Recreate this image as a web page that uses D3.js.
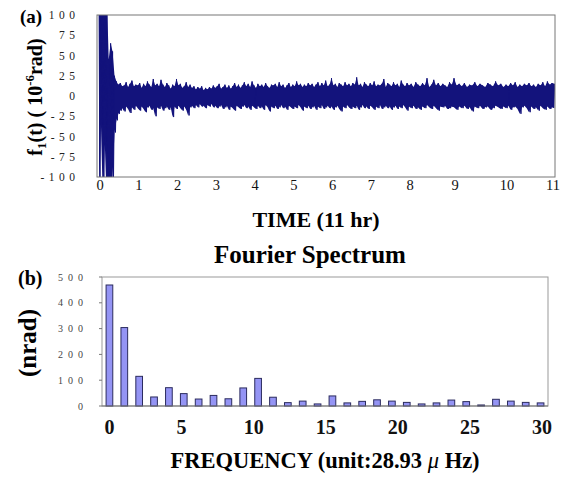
<!DOCTYPE html>
<html><head><meta charset="utf-8">
<script src="https://cdn.jsdelivr.net/npm/d3@7"></script>
<style>html,body{margin:0;padding:0;background:#fff;}svg{display:block;}</style>
</head><body>
<script>
// ---- Data: panel (a) time series envelope (sampled every 0.05 hr), units 1e-6 rad
const sampleStep = 0.05;
const hiVals = [
130,130,130,130,130,45,65,55,25,18,
14,16,12,13,17,11,15,19,12,14,
13,16,10,15,12,18,14,11,21,13,
15,12,20,14,11,16,13,9,14,12,
21,13,15,10,12,17,11,14,10,12,
8,11,9,12,7,10,8,11,9,13,
10,12,15,9,11,14,10,13,9,12,
16,11,14,10,13,17,12,15,11,18,
13,10,15,12,14,11,16,12,10,14,
13,15,11,17,12,14,10,13,16,11,
14,12,18,13,15,11,14,12,16,13,
15,11,14,17,12,16,13,19,12,14,
22,13,15,11,16,14,12,17,13,15,
12,16,14,23,13,15,11,17,14,12,
16,13,18,12,14,13,15,21,11,16,
14,12,17,13,15,11,19,14,12,16,
13,15,11,17,14,12,16,13,22,11,
14,20,13,16,12,15,13,11,17,14,
22,13,15,12,16,11,14,13,17,12,
15,13,11,16,14,12,18,13,15,11,
14,12,16,13,17,11,14,12,15,13,
16,12,14,11,15,13,17,12,18,14,16,15];
const loVals = [
-130,-35,-130,-60,-130,-130,-110,-100,-45,-30,
-22,-18,-15,-19,-13,-16,-21,-14,-17,-12,
-15,-18,-13,-16,-20,-14,-12,-17,-15,-25,
-14,-16,-12,-18,-15,-13,-17,-14,-26,-13,
-16,-12,-15,-18,-13,-17,-24,-14,-12,-15,
-11,-14,-10,-13,-12,-15,-11,-13,-10,-14,
-12,-15,-13,-11,-16,-14,-12,-17,-13,-15,
-18,-12,-14,-16,-13,-11,-15,-13,-17,-12,
-14,-16,-12,-15,-13,-17,-11,-14,-19,-13,
-15,-12,-16,-14,-11,-15,-13,-17,-12,-14,
-16,-13,-15,-11,-14,-18,-13,-15,-12,-16,
-14,-12,-17,-13,-15,-11,-16,-14,-12,-15,
-13,-17,-14,-12,-16,-19,-13,-15,-11,-14,
-16,-13,-15,-12,-17,-14,-11,-15,-13,-16,
-12,-14,-17,-13,-15,-11,-16,-14,-12,-15,
-13,-17,-14,-12,-16,-13,-15,-11,-14,-18,
-13,-15,-12,-16,-14,-17,-13,-15,-11,-14,
-16,-12,-15,-18,-13,-14,-12,-16,-15,-13,
-14,-17,-13,-15,-12,-16,-14,-19,-13,-15,
-12,-16,-14,-13,-17,-15,-12,-14,-16,-13,
-15,-12,-17,-14,-13,-16,-22,-14,-12,-15,
-20,-13,-16,-14,-18,-12,-15,-17,-13,-16,-14,-15];
const timeTicks = [0,1,2,3,4,5,6,7,8,9,10,11];
const fTicks = [100,75,50,25,0,-25,-50,-75,-100];

// ---- Data: panel (b) Fourier spectrum, nrad
const freqBins = d3.range(30);
const amps = [469,304,115,35,71,48,27,41,28,70,107,34,13,19,8,39,12,18,24,19,14,8,12,23,17,4,26,19,14,12];
const freqTicks = [0,5,10,15,20,25,30];
const ampTicks = [0,100,200,300,400,500];

const W = 563, H = 478;
const serif = '"Liberation Serif","Times New Roman",serif';
const navy = '#13137c';

const svg = d3.select('body').append('svg').attr('width', W).attr('height', H)
  .style('font-family', serif);

// ---------- Panel (a)
const boxA = {l: 97, r: 555, t: 15, b: 177};
const xA = d3.scaleLinear().domain([0, 8, 9, 10, 11]).range([99, 409, 454, 506, 552]);
const yA = d3.scaleLinear().domain([-100, 100]).range([boxA.b, boxA.t]);

svg.append('clipPath').attr('id', 'clipA').append('rect')
  .attr('x', boxA.l).attr('y', boxA.t).attr('width', boxA.r - boxA.l).attr('height', boxA.b - boxA.t);

const gA = svg.append('g').attr('clip-path', 'url(#clipA)');

// dense band: filled area between the upper and lower envelope (jagged edges)
const areaA = d3.area()
  .x((d, i) => xA(i * sampleStep))
  .y0((d, i) => yA(loVals[i]))
  .y1((d, i) => yA(hiVals[i]));
gA.append('path').attr('d', areaA(hiVals)).attr('fill', navy).attr('stroke', 'none');

// zigzag trace for the spiky look
const pts = [];
hiVals.forEach((h, i) => {
  const t = i * sampleStep;
  pts.push([t, h]);
  pts.push([t + sampleStep / 2, loVals[i]]);
});
const lineA = d3.line().x(d => xA(d[0])).y(d => yA(d[1]));
gA.append('path').attr('d', lineA(pts))
  .attr('fill', 'none').attr('stroke', navy).attr('stroke-width', 1);

svg.append('rect').attr('x', boxA.l).attr('y', boxA.t)
  .attr('width', boxA.r - boxA.l).attr('height', boxA.b - boxA.t)
  .attr('fill', 'none').attr('stroke', '#777').attr('stroke-width', 1);

svg.append('g').selectAll('text').data(fTicks).join('text')
  .attr('x', 75 + 4.5).attr('y', d => yA(d)).attr('dy', '0.35em')
  .attr('text-anchor', 'end').attr('font-size', 11.5).attr('letter-spacing', 4.5)
  .attr('fill', '#222').text(d => d);

svg.append('g').selectAll('text').data(timeTicks).join('text')
  .attr('x', d => xA(d) + 1).attr('y', 190).attr('text-anchor', 'middle')
  .attr('font-size', 14.5).attr('fill', '#111').text(d => d);

svg.append('text').attr('x', 20).attr('y', 23).attr('font-size', 19).attr('font-weight', 'bold').text('(a)');

const yt = svg.append('text').attr('transform', 'translate(42,97) rotate(-90)')
  .attr('text-anchor', 'middle').attr('font-size', 20).attr('font-weight', 'bold');
yt.append('tspan').text('f');
yt.append('tspan').attr('font-size', 13).attr('dy', 4).text('1');
yt.append('tspan').attr('dy', -4).text('(t) ( 10');
yt.append('tspan').attr('font-size', 13).attr('dy', -8).text('-6');
yt.append('tspan').attr('dy', 8).text('rad)');

svg.append('text').attr('x', 316).attr('y', 227).attr('text-anchor', 'middle')
  .attr('font-size', 22).attr('font-weight', 'bold').text('TIME (11 hr)');
svg.append('text').attr('x', 310).attr('y', 263).attr('text-anchor', 'middle')
  .attr('font-size', 25).attr('font-weight', 'bold').text('Fourier Spectrum');

// ---------- Panel (b)
const boxB = {l: 102, r: 548, t: 277, b: 406};
const xB = d3.scaleBand().domain(freqBins).range([boxB.l, boxB.r]).paddingInner(0.55).paddingOuter(0.275);
const xBt = d3.scaleLinear().domain([0, 30]).range([109.5, 542]);
const yB = d3.scaleLinear().domain([0, 500]).range([boxB.b, boxB.t]);

svg.append('rect').attr('x', boxB.l).attr('y', boxB.t)
  .attr('width', boxB.r - boxB.l).attr('height', boxB.b - boxB.t)
  .attr('fill', 'none').attr('stroke', '#999').attr('stroke-width', 1);

svg.append('g').selectAll('line').data(ampTicks).join('line')
  .attr('x1', boxB.l - 3).attr('x2', boxB.l).attr('y1', d => yB(d)).attr('y2', d => yB(d))
  .attr('stroke', '#777');

svg.append('g').selectAll('rect').data(amps).join('rect')
  .attr('x', (d, i) => xB(freqBins[i])).attr('width', xB.bandwidth())
  .attr('y', d => yB(d)).attr('height', d => yB(0) - yB(d))
  .attr('fill', '#9494f4').attr('stroke', '#2b2b5e').attr('stroke-width', 1);

svg.append('line').attr('x1', boxB.l).attr('x2', boxB.r).attr('y1', boxB.b).attr('y2', boxB.b)
  .attr('stroke', '#777');

svg.append('g').selectAll('text').data(ampTicks).join('text')
  .attr('x', 83 + 5).attr('y', d => yB(d)).attr('dy', '0.35em')
  .attr('text-anchor', 'end').attr('font-size', 10).attr('letter-spacing', 5)
  .attr('fill', '#444').text(d => d);

svg.append('g').selectAll('text').data(freqTicks).join('text')
  .attr('x', d => xBt(d)).attr('y', 434).attr('text-anchor', 'middle')
  .attr('font-size', 20).attr('font-weight', 'bold').attr('fill', '#111').text(d => d);

svg.append('text').attr('x', 18).attr('y', 285).attr('font-size', 20).attr('font-weight', 'bold').text('(b)');
svg.append('text').attr('transform', 'translate(36,343) rotate(-90)')
  .attr('text-anchor', 'middle').attr('font-size', 25).attr('font-weight', 'bold').text('(nrad)');

const fx = svg.append('text').attr('x', 325).attr('y', 468).attr('text-anchor', 'middle')
  .attr('font-size', 22.5).attr('font-weight', 'bold');
fx.append('tspan').text('FREQUENCY (unit:28.93 ');
fx.append('tspan').attr('font-style', 'italic').attr('font-weight', 'normal').text('μ');
fx.append('tspan').text(' Hz)');
</script>
</body></html>
